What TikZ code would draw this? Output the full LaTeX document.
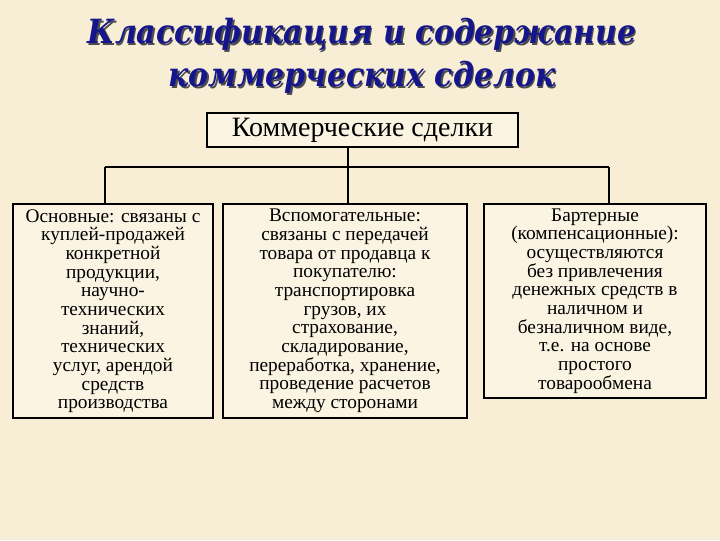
\documentclass[tikz,border=0pt]{standalone}
\usepackage{fontspec}
\setmainfont{Liberation Serif}
\newfontfamily\titlefont{DejaVu Serif Condensed}
\usepackage{tikz}
\usetikzlibrary{positioning,calc}
\definecolor{paper}{RGB}{248,238,214}
\definecolor{boxfill}{RGB}{251,244,227}
\definecolor{titleblue}{RGB}{22,22,140}

\begin{document}
\begin{tikzpicture}[x=0.75pt, y=-0.75pt,
  dealbox/.style={draw, line width=1.5pt, fill=boxfill, align=center, inner sep=2pt,
    font=\fontsize{14.5}{14}\selectfont},
  link/.style={line width=1.5pt},
  titletext/.style={align=center, font=\titlefont\fontsize{25}{32}\selectfont\bfseries\itshape},
]
% Background
\fill[paper] (0,0) rectangle (720,540);
\useasboundingbox (0,0) rectangle (720,540);
% Title with shadow
\node[titletext, text=black!70] (titleshadow) at (363.5,57.5) {Классификация и содержание\\коммерческих сделок};
\node[titletext, text=titleblue] (title) at (362,56) {Классификация и содержание\\коммерческих сделок};
% Root box
\node[draw, line width=1.5pt, fill=boxfill, minimum width=233.25pt, minimum height=25.5pt,
  font=\fontsize{21}{24}\selectfont] (root) at (362.5,130) {Коммерческие сделки};
% Three kinds of deals
\node[dealbox, minimum width=150pt, minimum height=160.5pt] (basic) at (113,311)
  {Основные: связаны с\\куплей-продажей\\конкретной\\продукции,\\научно-\\технических\\знаний,\\технических\\услуг, арендой\\средств\\производства};
\node[dealbox, minimum width=183pt, minimum height=160.5pt] (aux) at (345,311)
  {Вспомогательные:\\связаны с передачей\\товара от продавца к\\покупателю:\\транспортировка\\грузов, их\\страхование,\\складирование,\\переработка, хранение,\\проведение расчетов\\между сторонами};
\node[dealbox, minimum width=166.5pt, minimum height=145.5pt] (barter) at (595,301)
  {Бартерные\\(компенсационные):\\осуществляются\\без привлечения\\денежных средств в\\наличном и\\безналичном виде,\\т.е. на основе\\простого\\товарообмена};
% Connectors
\coordinate (hub) at (348,167);
\coordinate (jl) at (105,167);
\coordinate (jr) at (609,167);
\draw[link] (root.south -| hub) -- (hub);
\draw[link] (jl) -- (jr);
\draw[link] (jl) -- (jl |- basic.north);
\draw[link] (hub) -- (hub |- aux.north);
\draw[link] (jr) -- (jr |- barter.north);
\end{tikzpicture}
\end{document}
